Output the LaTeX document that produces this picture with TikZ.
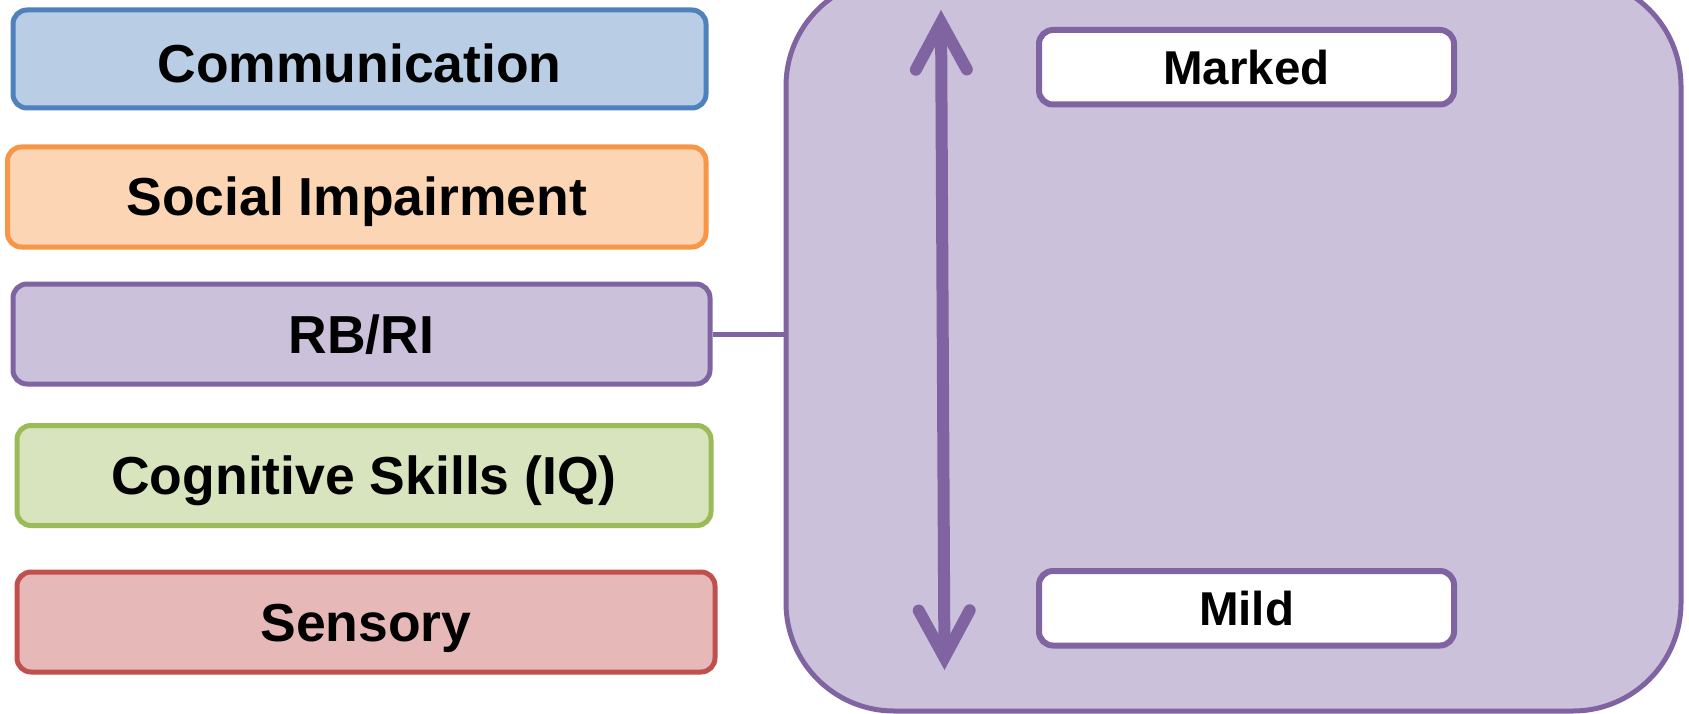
\documentclass[tikz,border=0pt]{standalone}
\usepackage{fontspec}
\setmainfont{Liberation Sans}
\usetikzlibrary{arrows.meta}
\definecolor{cBlueF}{HTML}{B9CDE5}
\definecolor{cBlueD}{HTML}{4F81BD}
\definecolor{cOrF}{HTML}{FCD5B5}
\definecolor{cOrD}{HTML}{F79646}
\definecolor{cPuF}{HTML}{CCC1DA}
\definecolor{cPuD}{HTML}{8064A2}
\definecolor{cGrF}{HTML}{D7E4BD}
\definecolor{cGrD}{HTML}{9BBB59}
\definecolor{cReF}{HTML}{E6B9B8}
\definecolor{cReD}{HTML}{C0504D}
\tikzset{
  catbox/.style={rectangle, rounded corners=14pt, line width=5pt, inner sep=0pt, minimum height=100pt,
     font=\fontsize{53.5}{60}\selectfont\bfseries, text height=38pt, text depth=0pt},
  levelbox/.style={rectangle, rounded corners=14pt, line width=6pt, draw=cPuD, fill=white, inner sep=0pt,
     minimum width=415pt, minimum height=74.5pt, font=\fontsize{47.5}{54}\selectfont\bfseries,
     text height=34pt, text depth=0pt},
  panel/.style={rectangle, rounded corners=108pt, line width=5pt, draw=cPuD, fill=cPuF, inner sep=0pt},
  link/.style={line width=5pt, draw=cPuD},
  barb/.tip={Straight Barb[length=47pt,width=51pt,line cap=round,line join=miter]},
  scalearrow/.style={line width=12pt, draw=cPuD, barb-barb}
}
\begin{document}
\begin{tikzpicture}[x=1pt,y=-1pt]
\useasboundingbox (0,0) rectangle (1689,714);
% left category boxes
\node[catbox, draw=cBlueD, fill=cBlueF, minimum width=693pt, minimum height=98pt, text height=48pt] (comm) at (359.5,59) {Communication};
\node[catbox, draw=cOrD, fill=cOrF, minimum width=698.5pt] (social) at (356.75,197) {Social Impairment};
\node[catbox, draw=cPuD, fill=cPuF, minimum width=697pt] (rbri) at (361.5,334) {RB/RI};
\node[catbox, draw=cGrD, fill=cGrF, minimum width=694pt] (cog) at (364,475.5) {Cognitive Skills (IQ)};
\node[catbox, draw=cReD, fill=cReF, minimum width=698pt] (sens) at (366,622) {Sensory};
% right panel
\node[panel, minimum width=895pt, minimum height=733pt] (panel) at (1233.5,344.5) {};
\draw[link] (rbri.east) -- (rbri.east -| panel.west);
\node[levelbox] (marked) at (1246.5,67.25) {Marked};
\node[levelbox] (mild) at (1246.5,608.25) {Mild};
% severity arrow
\coordinate (atop) at (941,10);
\coordinate (abot) at (944.5,670);
\draw[scalearrow] (atop) -- (abot);
\end{tikzpicture}
\end{document}
